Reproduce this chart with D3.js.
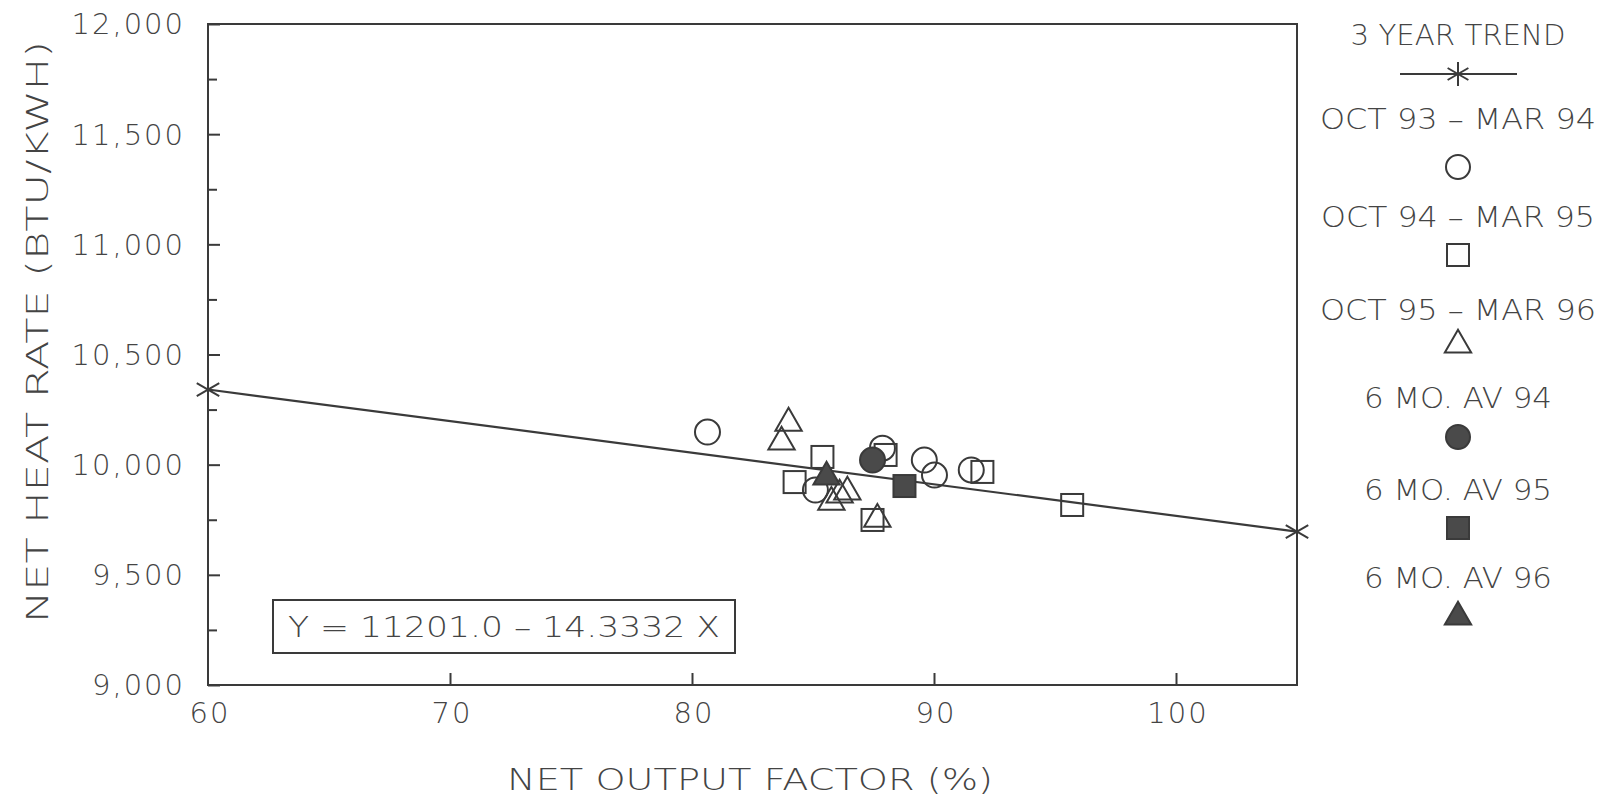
<!DOCTYPE html>
<html><head><meta charset="utf-8">
<script src="https://cdn.jsdelivr.net/npm/d3@7"></script>
<style>
body{margin:0;background:#fff;}
svg text{font-family:"DejaVu Sans","Open Sans",sans-serif;font-weight:200;fill:#444;}
</style></head><body>
<svg id="c" width="1603" height="799"></svg>
<script>
// ---- data ----
const xTicks = [60, 70, 80, 90, 100];
const yTicks = [9000, 9500, 10000, 10500, 11000, 11500, 12000];
const yMinorTicks = [9250, 9750, 10250, 10750, 11250, 11750];
const trendIntercept = 11201.0, trendSlope = -14.3332;
const trendX = [60, 105];
const oct93 = [[80.64,10148],[87.87,10075],[89.6,10021],[90.02,9953],[91.54,9976],[85.1,9885]];
const oct94 = [[85.39,10035],[84.24,9921],[88.0,10044],[92.0,9967],[95.71,9817],[87.46,9749]];
const oct95 = [[83.99,10198],[83.7,10112],[86.42,9885],[85.76,9839],[86.1,9872],[87.66,9762]];
const av94 = [[87.46,10021]];
const av95 = [[88.78,9903]];
const av96 = [[85.56,9953]];
const legendLabels = ["3 YEAR TREND","OCT 93 \u2013 MAR 94","OCT 94 \u2013 MAR 95","OCT 95 \u2013 MAR 96","6 MO. AV 94","6 MO. AV 95","6 MO. AV 96"];

// ---- layout ----
const L=208, R=1297, T=24, B=685;
const svg = d3.select("#c");
const x = d3.scaleLinear().domain([60,105]).range([L,R]);
const y = d3.scaleLinear().domain([9000,12000]).range([B,T]);
const ink = "#3a3a3a";

function fit(sel, w){ // stretch text to a target width
  sel.each(function(){ const n=this; const cur=n.getComputedTextLength();
    if(cur>0) d3.select(n).attr("textLength",w).attr("lengthAdjust","spacingAndGlyphs"); });
}

// frame
svg.append("rect").attr("x",L).attr("y",T).attr("width",R-L).attr("height",B-T)
  .attr("fill","none").attr("stroke",ink).attr("stroke-width",2);

// y axis (ticks inward)
const yAx = svg.append("g").attr("transform",`translate(${L},0)`)
  .call(d3.axisRight(y).tickValues(yTicks).tickSize(12).tickFormat(""));
yAx.select(".domain").remove();
yAx.selectAll("line").attr("stroke",ink).attr("stroke-width",2);
svg.append("g").attr("transform",`translate(${L},0)`)
  .call(d3.axisRight(y).tickValues(yMinorTicks).tickSize(9).tickFormat(""))
  .call(g=>g.select(".domain").remove())
  .selectAll("line").attr("stroke",ink).attr("stroke-width",2);
svg.append("g").selectAll("text").data(yTicks).join("text")
  .attr("x",185).attr("y",d=>y(d)).attr("dy","0.36em").attr("text-anchor","end")
  .attr("font-size",29).attr("letter-spacing",2).text(d3.format(","));

// x axis
const xAx = svg.append("g").attr("transform",`translate(0,${B})`)
  .call(d3.axisTop(x).tickValues(xTicks.slice(1)).tickSize(12).tickFormat(""));
xAx.select(".domain").remove();
xAx.selectAll("line").attr("stroke",ink).attr("stroke-width",2);
svg.append("g").selectAll("text").data(xTicks).join("text")
  .attr("x",d=>x(d)+2).attr("y",713).attr("dy","0.36em").attr("text-anchor","middle")
  .attr("font-size",29).attr("letter-spacing",2).text(d=>d);

// axis titles
svg.append("text").attr("x",750).attr("y",779).attr("dy","0.36em").attr("text-anchor","middle")
  .attr("font-size",30).text("NET OUTPUT FACTOR (%)").call(fit,486);
svg.append("text").attr("transform","translate(37,332) rotate(-90)").attr("dy","0.36em")
  .attr("text-anchor","middle").attr("font-size",30).text("NET HEAT RATE (BTU/KWH)").call(fit,582);

// trend line
const tl = trendX.map(v=>[v, trendIntercept + trendSlope*v]);
svg.append("path").attr("d",d3.line().x(d=>x(d[0])).y(d=>y(d[1]))(tl))
  .attr("stroke",ink).attr("stroke-width",2.2).attr("fill","none");
function star(g,cx,cy,r,vertical){
  const angs = vertical ? [90,30,150] : [30,150];
  angs.forEach(a=>{const rad=a*Math.PI/180;
    g.append("line").attr("x1",cx-r*Math.cos(rad)).attr("y1",cy-r*Math.sin(rad))
     .attr("x2",cx+r*Math.cos(rad)).attr("y2",cy+r*Math.sin(rad))
     .attr("stroke",ink).attr("stroke-width",2);});
}
tl.forEach(d=>star(svg,x(d[0]),y(d[1]),13,false));

// markers
const tri = d3.symbol().type(d3.symbolTriangle).size(300);
function drawSeries(data,shape,filled){
  const g = svg.append("g");
  const fill = filled ? "#4a4a4a" : "none";
  data.forEach(d=>{
    const cx=x(d[0]), cy=y(d[1]);
    if(shape==="circle") g.append("circle").attr("cx",cx).attr("cy",cy).attr("r",12.5)
      .attr("fill",fill).attr("stroke",ink).attr("stroke-width",2);
    else if(shape==="square") g.append("rect").attr("x",cx-11).attr("y",cy-11).attr("width",22).attr("height",22)
      .attr("fill",fill).attr("stroke",ink).attr("stroke-width",2);
    else g.append("path").attr("d",tri()).attr("transform",`translate(${cx},${cy+2})`)
      .attr("fill",fill).attr("stroke",ink).attr("stroke-width",2);
  });
}
drawSeries(oct93,"circle",false);
drawSeries(oct94,"square",false);
drawSeries(oct95,"tri",false);
drawSeries(av94,"circle",true);
drawSeries(av95,"square",true);
drawSeries(av96,"tri",true);

// legend
const LX=1458;
const textY=[35,119,217,310,398,490,578];
const symY=[74,167,255,343,437,528,615];
const textW=[215,276,274,276,188,188,188];
const legendShapes=["trend","circle","square","tri","circle","square","tri"];
const legendFilled=[false,false,false,false,true,true,true];
const lg = svg.append("g");
legendLabels.forEach((t,i)=>{
  lg.append("text").attr("x",LX).attr("y",textY[i]).attr("dy","0.36em").attr("text-anchor","middle")
    .attr("font-size",28).text(t).call(fit,textW[i]);
  const cy=symY[i], fill=legendFilled[i]?"#4a4a4a":"none";
  const s=legendShapes[i];
  if(s==="trend"){
    lg.append("line").attr("x1",1400).attr("x2",1517).attr("y1",cy).attr("y2",cy).attr("stroke",ink).attr("stroke-width",2);
    star(lg,LX,cy,12,true);
  } else if(s==="circle") lg.append("circle").attr("cx",LX).attr("cy",cy).attr("r",12)
      .attr("fill",fill).attr("stroke",ink).attr("stroke-width",2);
  else if(s==="square") lg.append("rect").attr("x",LX-11).attr("y",cy-11).attr("width",22).attr("height",22)
      .attr("fill",fill).attr("stroke",ink).attr("stroke-width",2);
  else lg.append("path").attr("d",tri()).attr("transform",`translate(${LX},${cy+2})`)
      .attr("fill",fill).attr("stroke",ink).attr("stroke-width",2);
});

// equation box
svg.append("rect").attr("x",273).attr("y",600).attr("width",462).attr("height",53)
  .attr("fill","#fff").attr("stroke",ink).attr("stroke-width",2);
svg.append("text").attr("x",504).attr("y",627).attr("dy","0.36em").attr("text-anchor","middle")
  .attr("font-size",28).text("Y = 11201.0 \u2013 14.3332 X").call(fit,432);
</script></body></html>
